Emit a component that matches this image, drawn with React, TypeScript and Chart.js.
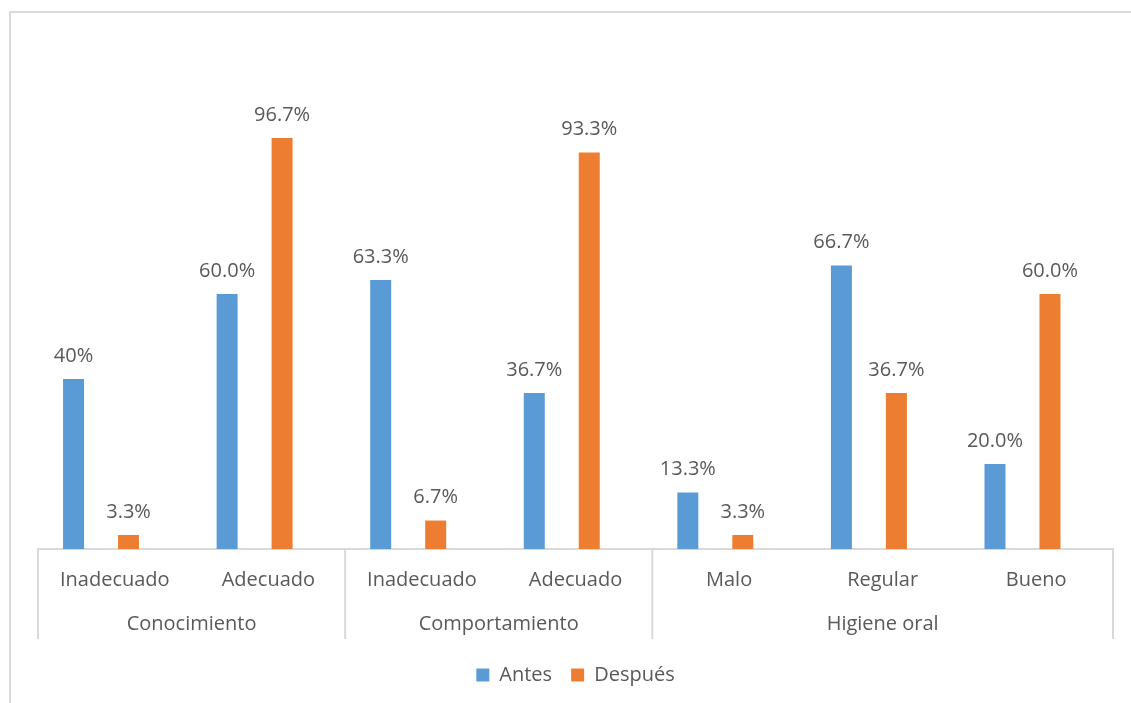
import React, { useEffect, useRef } from "react";
import { Chart, registerables } from "chart.js";

Chart.register(...registerables);

const categories = ["Inadecuado", "Adecuado", "Inadecuado", "Adecuado", "Malo", "Regular", "Bueno"];
const groups = [
  { label: "Conocimiento", from: 0, to: 1 },
  { label: "Comportamiento", from: 2, to: 3 },
  { label: "Higiene oral", from: 4, to: 6 },
];
const antes = [40, 60.0, 63.3, 36.7, 13.3, 66.7, 20.0];
const despues = [3.3, 96.7, 6.7, 93.3, 3.3, 36.7, 60.0];
const antesLabels = ["40%", "60.0%", "63.3%", "36.7%", "13.3%", "66.7%", "20.0%"];
const despuesLabels = ["3.3%", "96.7%", "6.7%", "93.3%", "3.3%", "36.7%", "60.0%"];
const empty = categories.map(() => null);

const FONT = "'Open Sans', sans-serif";
const FS = 20;
const TEXT = "#595959";
const LINE = "#d9d9d9";

const framePlugin = {
  id: "frame",
  beforeDraw(chart: any) {
    const ctx = chart.ctx;
    ctx.save();
    ctx.fillStyle = "#ffffff";
    ctx.fillRect(0, 0, chart.width, chart.height);
    ctx.strokeStyle = LINE;
    ctx.lineWidth = 2;
    ctx.beginPath();
    ctx.moveTo(10, chart.height);
    ctx.lineTo(10, 12);
    ctx.lineTo(chart.width, 12);
    ctx.stroke();
    ctx.restore();
  },
};

const labelsPlugin = {
  id: "barLabels",
  afterDatasetsDraw(chart: any) {
    const ctx = chart.ctx;
    ctx.save();
    ctx.font = `${FS}px ${FONT}`;
    ctx.fillStyle = TEXT;
    ctx.textAlign = "center";
    ctx.textBaseline = "middle";
    const sets: [number, string[]][] = [
      [0, antesLabels],
      [2, despuesLabels],
    ];
    sets.forEach(([di, labels]) => {
      const meta = chart.getDatasetMeta(di);
      meta.data.forEach((el: any, i: number) => {
        ctx.fillText(labels[i], el.x, el.y - 23);
      });
    });
    ctx.restore();
  },
};

const axisPlugin = {
  id: "multiAxis",
  afterDraw(chart: any) {
    const ctx = chart.ctx;
    const x = chart.scales.x;
    const bottom = chart.chartArea.bottom;
    const half = (x.getPixelForValue(1) - x.getPixelForValue(0)) / 2;
    ctx.save();
    ctx.strokeStyle = LINE;
    ctx.lineWidth = 2;
    const bounds = [x.getPixelForValue(0) - half];
    groups.forEach((g) => bounds.push(x.getPixelForValue(g.to) + half));
    ctx.beginPath();
    bounds.forEach((bx) => {
      ctx.moveTo(bx, bottom);
      ctx.lineTo(bx, bottom + 90);
    });
    ctx.stroke();
    ctx.font = `${FS}px ${FONT}`;
    ctx.fillStyle = TEXT;
    ctx.textAlign = "center";
    ctx.textBaseline = "middle";
    categories.forEach((c, i) => {
      ctx.fillText(c, x.getPixelForValue(i), bottom + 31);
    });
    groups.forEach((g) => {
      const cx = (x.getPixelForValue(g.from) + x.getPixelForValue(g.to)) / 2;
      ctx.fillText(g.label, cx, bottom + 75);
    });
    ctx.restore();
  },
};

export default function App() {
  const ref = useRef<HTMLCanvasElement>(null);
  useEffect(() => {
    if (!ref.current) return;
    const chart = new Chart(ref.current, {
      type: "bar",
      data: {
        labels: categories,
        datasets: [
          { label: "Antes", data: antes, backgroundColor: "#5B9BD5" },
          { label: "", data: empty, backgroundColor: "transparent" },
          { label: "Después", data: despues, backgroundColor: "#ED7D31" },
          { label: " ", data: empty, backgroundColor: "transparent" },
        ],
      },
      options: {
        responsive: false,
        animation: false,
        devicePixelRatio: 1,
        layout: { padding: { left: 38, right: 18, top: 39, bottom: 8 } },
        datasets: { bar: { categoryPercentage: 0.716, barPercentage: 0.764 } },
        scales: {
          x: {
            grid: { display: false, drawTicks: false },
            border: { display: true, color: LINE, width: 2 },
            ticks: { display: false },
            afterFit: (scale: any) => {
              scale.height = 97;
            },
          },
          y: { display: false, min: 0, max: 120 },
        },
        plugins: {
          legend: {
            position: "bottom",
            labels: {
              boxWidth: 13,
              boxHeight: 13,
              padding: 19,
              color: TEXT,
              font: { family: FONT, size: FS },
              filter: (item: any) => item.datasetIndex === 0 || item.datasetIndex === 2,
            },
          },
          tooltip: { enabled: false },
        },
      },
      plugins: [framePlugin, labelsPlugin, axisPlugin],
    });
    return () => chart.destroy();
  }, []);
  return (
    <div style={{ position: "fixed", left: 0, top: 0, width: 1131, height: 703 }}>
      <canvas ref={ref} width={1131} height={703} style={{ width: 1131, height: 703, display: "block" }} />
    </div>
  );
}
